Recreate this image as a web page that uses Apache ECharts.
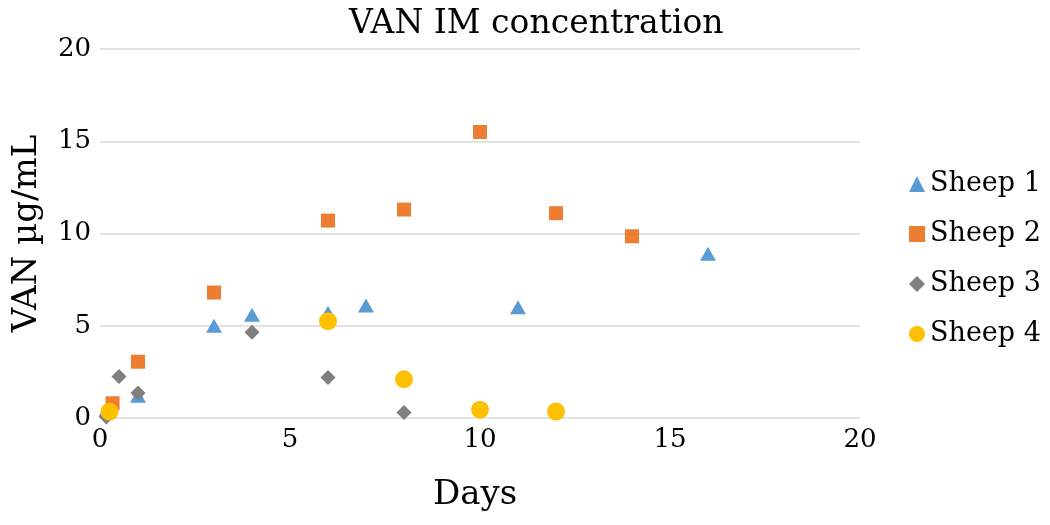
<!DOCTYPE html>
<html>
<head>
<meta charset="utf-8">
<script src="https://cdn.jsdelivr.net/npm/echarts@6/dist/echarts.min.js"></script>
<style>
html,body{margin:0;padding:0;background:#fff;}
#chart{width:1050px;height:525px;}
</style>
</head>
<body>
<div id="chart"></div>
<script>
// Data: [day, concentration]
const seriesNames = ['Sheep 1', 'Sheep 2', 'Sheep 3', 'Sheep 4'];
const sheep1 = [[0.17, 0.45], [1, 1.2], [3, 5.0], [4, 5.6], [6, 5.7], [7, 6.1], [11, 6.0], [16, 8.9]];
const sheep2 = [[0.33, 0.8], [1, 3.05], [3, 6.8], [6, 10.7], [8, 11.3], [10, 15.5], [12, 11.1], [14, 9.85]];
const sheep3 = [[0.17, 0.05], [0.5, 2.25], [1, 1.35], [4, 4.65], [6, 2.2], [8, 0.3]];
const sheep4 = [[0.25, 0.35], [6, 5.25], [8, 2.1], [10, 0.45], [12, 0.35]];
const xTicks = [0, 5, 10, 15, 20];
const yTicks = [0, 5, 10, 15, 20];

const FONT = 'DejaVu Serif';
const chart = echarts.init(document.getElementById('chart'), null, {renderer: 'canvas'});
chart.setOption({
  backgroundColor: '#ffffff',
  animation: false,
  title: {
    text: 'VAN IM concentration',
    left: 344, top: 3,
    textStyle: {fontFamily: FONT, fontSize: 33, fontWeight: 'normal', color: '#000'}
  },
  legend: {
    orient: 'vertical',
    left: 904, top: 165,
    itemGap: 22,
    itemWidth: 16, itemHeight: 16,
    textStyle: {fontFamily: FONT, fontSize: 27, lineHeight: 28, color: '#000'},
    data: [
      {name: seriesNames[0], icon: 'triangle'},
      {name: seriesNames[1], icon: 'rect'},
      {name: seriesNames[2], icon: 'diamond'},
      {name: seriesNames[3], icon: 'circle'}
    ]
  },
  grid: {left: 100, right: 190, top: 49, bottom: 107, containLabel: false},
  xAxis: {
    type: 'value', min: xTicks[0], max: xTicks[xTicks.length - 1], interval: 5,
    name: 'Days', nameLocation: 'middle', nameGap: 60,
    nameTextStyle: {fontFamily: FONT, fontSize: 34, color: '#000', padding: [0, 10, 0, 0]},
    axisLine: {show: false}, axisTick: {show: false},
    axisLabel: {fontFamily: FONT, fontSize: 26, color: '#000', margin: 9},
    splitLine: {show: false}
  },
  yAxis: {
    type: 'value', min: yTicks[0], max: yTicks[yTicks.length - 1], interval: 5,
    name: 'VAN µg/mL', nameLocation: 'middle', nameGap: 56,
    nameTextStyle: {fontFamily: FONT, fontSize: 34, color: '#000'},
    axisLine: {show: false}, axisTick: {show: false},
    axisLabel: {fontFamily: FONT, fontSize: 26, color: '#000', margin: 9},
    splitLine: {show: true, lineStyle: {color: '#d9d9d9', width: 1.5}}
  },
  series: [
    {name: seriesNames[0], type: 'scatter', symbol: 'triangle', symbolSize: [16, 14], data: sheep1,
     itemStyle: {color: '#5b9bd5', opacity: 1}},
    {name: seriesNames[1], type: 'scatter', symbol: 'rect', symbolSize: 14, data: sheep2,
     itemStyle: {color: '#ed7d31', opacity: 1}},
    {name: seriesNames[2], type: 'scatter', symbol: 'diamond', symbolSize: 15, data: sheep3,
     itemStyle: {color: '#7f7f7f', opacity: 1}},
    {name: seriesNames[3], type: 'scatter', symbol: 'circle', symbolSize: 18, data: sheep4,
     itemStyle: {color: '#ffc000', opacity: 1}}
  ]
});
</script>
</body>
</html>
